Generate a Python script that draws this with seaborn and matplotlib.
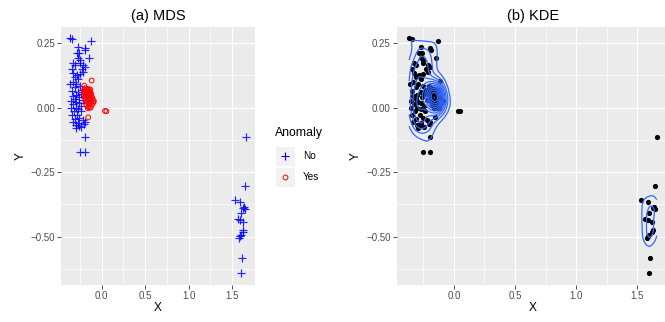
import numpy as np
import pandas as pd
import matplotlib
matplotlib.use("Agg")
import matplotlib.pyplot as plt
import seaborn as sns
from matplotlib.patches import Rectangle
from matplotlib.lines import Line2D

# ---------------- data ----------------
no_x = [-0.366, -0.345, -0.127, -0.270, -0.193, -0.190, -0.288, -0.258, -0.146, -0.270, -0.250,
        -0.327, -0.308, -0.250, -0.212, -0.193, -0.346, -0.231, -0.212, -0.327, -0.288, -0.250, -0.308,
        -0.270, -0.330, -0.360, -0.290, -0.250, -0.310, -0.230, -0.340, -0.270, -0.300, -0.240, -0.335,
        -0.260, -0.310, -0.220, -0.350, -0.290, -0.265, -0.325, -0.240, -0.350, -0.300, -0.270, -0.320,
        -0.235, -0.340, -0.280,
        -0.255, -0.310, -0.220, -0.330, -0.270, -0.195, -0.205, -0.300, -0.240, -0.265, -0.290,
        -0.193, -0.250, -0.193,
        1.660, 1.646, 1.530, 1.585, 1.627, 1.646, 1.640, 1.596, 1.565, 1.588, 1.623, 1.627, 1.620,
        1.590, 1.580, 1.600, 1.608, 1.600]
no_y = [0.268, 0.267, 0.259, 0.235, 0.232, 0.222, 0.212, 0.210, 0.194, 0.194, 0.186,
        0.171, 0.164, 0.171, 0.164, 0.158, 0.151, 0.148, 0.139, 0.135, 0.125, 0.129, 0.119,
        0.110, 0.100, 0.090, 0.092, 0.085, 0.078, 0.070, 0.065, 0.060, 0.050, 0.052, 0.045,
        0.040, 0.032, 0.030, 0.025, 0.020, 0.018, 0.012, 0.008, 0.000, -0.002, -0.006, -0.012,
        -0.015, -0.028, -0.030,
        -0.040, -0.045, -0.050, -0.055, -0.058, -0.055, -0.062, -0.068, -0.075, -0.070, -0.080,
        -0.113, -0.172, -0.172,
        -0.114, -0.305, -0.357, -0.366, -0.389, -0.392, -0.385, -0.409, -0.430, -0.435, -0.445, -0.473, -0.483,
        -0.497, -0.505, -0.495, -0.583, -0.642]

yes_x = [-0.200, -0.115, -0.155, 0.038, 0.054,
         -0.200, -0.185, -0.170, -0.155, -0.140, -0.130,
         -0.205, -0.190, -0.175, -0.160, -0.145, -0.130, -0.120,
         -0.200, -0.185, -0.170, -0.155, -0.140, -0.125, -0.110, -0.100,
         -0.195, -0.180, -0.165, -0.150, -0.135, -0.120, -0.090, -0.095,
         -0.185, -0.170, -0.155, -0.140, -0.125, -0.110,
         -0.175, -0.155, -0.140, -0.160, -0.125]
yes_y = [0.085, 0.105, -0.038, -0.013, -0.014,
         0.070, 0.075, 0.070, 0.072, 0.066, 0.070,
         0.060, 0.058, 0.062, 0.056, 0.060, 0.056, 0.052,
         0.050, 0.046, 0.050, 0.044, 0.048, 0.044, 0.040, 0.030,
         0.038, 0.034, 0.040, 0.032, 0.036, 0.028, 0.025, 0.020,
         0.025, 0.022, 0.020, 0.016, 0.018, 0.012,
         0.010, 0.004, 0.000, -0.002, 0.000]

groups = ["No", "Yes"]
x_ticks = [0.0, 0.5, 1.0, 1.5]
x_ticklabels = ["0.0", "0.5", "1.0", "1.5"]
y_ticks = [-0.50, -0.25, 0.00, 0.25]
y_ticklabels = ["\u22120.50", "\u22120.25", "0.00", "0.25"]
titles = ["(a) MDS", "(b) KDE"]

df = pd.DataFrame({
    "X": no_x + yes_x,
    "Y": no_y + yes_y,
    "Anomaly": [groups[0]] * len(no_x) + [groups[1]] * len(yes_x),
})

# ---------------- style ----------------
plt.rcParams["font.family"] = ["Liberation Sans", "DejaVu Sans"]
W, H = 665, 322
fig = plt.figure(figsize=(W / 100, H / 100), dpi=100)
ax1 = fig.add_axes([61 / W, 37 / H, 194 / W, 258.3 / H])
ax2 = fig.add_axes([396.7 / W, 37 / H, 272.5 / W, 258.3 / H])

xmin, xmax = df.X.min(), df.X.max()
ymin, ymax = df.Y.min(), df.Y.max()
ex = (xmax - xmin) * 0.05
ey = (ymax - ymin) * 0.05


def style(ax, title):
    ax.set_facecolor("#EBEBEB")
    for s in ax.spines.values():
        s.set_visible(False)
    ax.set_xlim(xmin - ex, xmax + ex)
    ax.set_ylim(ymin - ey, ymax + ey)
    ax.set_xticks(x_ticks)
    ax.set_xticklabels(x_ticklabels)
    ax.set_yticks(y_ticks)
    ax.set_yticklabels(y_ticklabels)
    ax.set_xticks([-0.25, 0.25, 0.75, 1.25], minor=True)
    ax.set_yticks([-0.625, -0.375, -0.125, 0.125], minor=True)
    ax.grid(which="major", color="white", lw=0.85)
    ax.grid(which="minor", color="white", lw=0.45)
    ax.set_axisbelow(True)
    ax.tick_params(which="major", length=2.8, width=0.6, color="#333333",
                   labelsize=7, labelcolor="#4D4D4D", pad=1.5)
    ax.tick_params(which="minor", length=0)
    ax.set_xlabel("X", fontsize=8.6, labelpad=1)
    ax.set_ylabel("Y", fontsize=8.6, labelpad=3)
    ax.set_title(title, fontsize=10.5, pad=5)


# ---------------- (a) MDS ----------------
d_no = df[df.Anomaly == "No"]
d_yes = df[df.Anomaly == "Yes"]
sns.scatterplot(data=d_no, x="X", y="Y", ax=ax1, marker="+", color="blue",
                s=34, linewidth=0.85, alpha=0.85, legend=False)
sns.scatterplot(data=d_yes, x="X", y="Y", ax=ax1, marker="o", facecolors="none",
                edgecolor="red", s=12, linewidth=0.7, legend=False)
style(ax1, titles[0])

# legend (ggplot style)
fig.text(275 / W, 1 - 133 / H, "Anomaly", fontsize=8.8, va="center", ha="left")
for i, (g, lab) in enumerate(zip(groups, groups)):
    top = 146 + i * 21
    fig.add_artist(Rectangle((275 / W, 1 - (top + 20) / H), 20 / W, 20 / H,
                             transform=fig.transFigure, facecolor="#F2F2F2",
                             edgecolor="white", lw=0.8))
    cx, cy = 285 / W, 1 - (top + 10) / H
    if g == "No":
        m = Line2D([cx], [cy], marker="+", color="blue", ms=5.5, mew=0.8,
                   ls="none", transform=fig.transFigure)
    else:
        m = Line2D([cx], [cy], marker="o", mfc="none", mec="red", ms=3.5, mew=0.7,
                   ls="none", transform=fig.transFigure)
    fig.add_artist(m)
    fig.text(303 / W, cy, lab, fontsize=7.2, va="center", ha="left")

# ---------------- (b) KDE ----------------
sns.scatterplot(data=df, x="X", y="Y", ax=ax2, color="black", s=14,
                linewidth=0, legend=False)


def bandwidth_nrd(v):
    v = np.asarray(v)
    q75, q25 = np.percentile(v, [75, 25])
    h = (q75 - q25) / 1.34
    return 4 * 1.06 * min(np.std(v, ddof=1), h) * len(v) ** (-0.2)


def pretty_step(rng, n=10, h=1.5):
    cell = rng / n
    U = 10 ** np.floor(np.log10(cell))
    h5 = 0.5 + 1.5 * h
    unit = U
    if 2 * U - cell < h * (cell - unit):
        unit = 2 * U
        if 5 * U - cell < h5 * (cell - unit):
            unit = 5 * U
            if 10 * U - cell < h * (cell - unit):
                unit = 10 * U
    return unit


xs, ys = df.X.values, df.Y.values
hx, hy = bandwidth_nrd(xs) / 4, bandwidth_nrd(ys) / 4
gx = np.linspace(xs.min(), xs.max(), 100)
gy = np.linspace(ys.min(), ys.max(), 100)
kx = np.exp(-0.5 * ((gx[:, None] - xs[None, :]) / hx) ** 2) / (hx * np.sqrt(2 * np.pi))
ky = np.exp(-0.5 * ((gy[:, None] - ys[None, :]) / hy) ** 2) / (hy * np.sqrt(2 * np.pi))
z = kx @ ky.T / len(xs)
step = pretty_step(z.max())
levels = np.arange(step, z.max(), step)
ax2.contour(gx, gy, z.T, levels=levels, colors="#3366FF", linewidths=0.9)
style(ax2, titles[1])

fig.savefig("out.png", dpi=100)
